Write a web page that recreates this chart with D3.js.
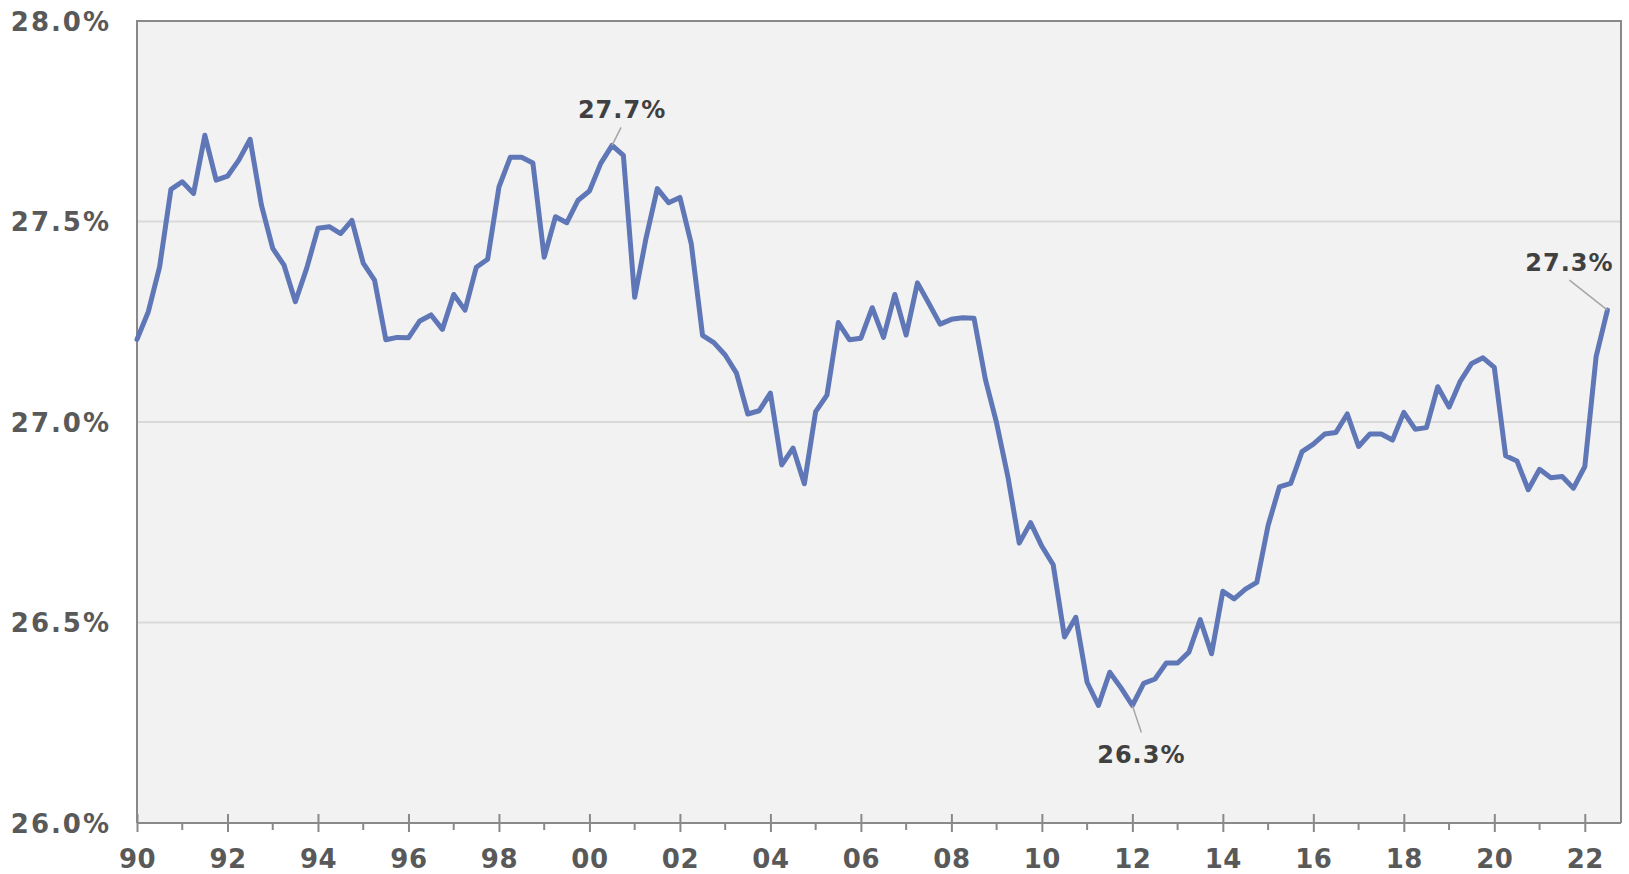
<!DOCTYPE html>
<html>
<head>
<meta charset="utf-8">
<script src="https://cdnjs.cloudflare.com/ajax/libs/d3/7.8.5/d3.min.js"></script>
<style>
  html, body { margin: 0; padding: 0; background: #ffffff; }
  svg { display: block; }
  text { font-family: "DejaVu Sans", Verdana, sans-serif; font-weight: bold; }
</style>
</head>
<body>
<svg id="chart" width="1629" height="874"></svg>
<script>
// ---- data ----
const startYear = 1990;            // first quarter (Q1 1990)
const values = [
  27.206, 27.275, 27.387, 27.580,
  27.599, 27.570, 27.715, 27.603,
  27.613, 27.653, 27.705, 27.541,
  27.433, 27.391, 27.300, 27.383,
  27.483, 27.487, 27.470, 27.503,
  27.396, 27.354, 27.205, 27.211,
  27.210, 27.252, 27.267, 27.231,
  27.318, 27.279, 27.386, 27.406,
  27.586, 27.660, 27.660, 27.646,
  27.411, 27.512, 27.497, 27.553,
  27.576, 27.645, 27.690, 27.665,
  27.311, 27.458, 27.582, 27.547,
  27.560, 27.445, 27.216, 27.198,
  27.167, 27.122, 27.020, 27.028,
  27.072, 26.893, 26.935, 26.846,
  27.026, 27.067, 27.248, 27.205,
  27.209, 27.285, 27.211, 27.318,
  27.217, 27.347, 27.296, 27.244,
  27.256, 27.260, 27.259, 27.107,
  26.997, 26.863, 26.698, 26.749,
  26.690, 26.644, 26.464, 26.513,
  26.351, 26.293, 26.376, 26.337,
  26.293, 26.348, 26.359, 26.399,
  26.399, 26.426, 26.507, 26.422,
  26.578, 26.559, 26.583, 26.600,
  26.742, 26.838, 26.847, 26.926,
  26.945, 26.970, 26.974, 27.020,
  26.939, 26.970, 26.970, 26.955,
  27.024, 26.982, 26.986, 27.088,
  27.037, 27.102, 27.146, 27.160,
  27.136, 26.916, 26.903, 26.831,
  26.882, 26.861, 26.864, 26.835,
  26.889, 27.163, 27.279
];
const xTickYears = [1990, 1992, 1994, 1996, 1998, 2000, 2002, 2004, 2006, 2008, 2010, 2012, 2014, 2016, 2018, 2020, 2022];
const xTickLabels = ["90", "92", "94", "96", "98", "00", "02", "04", "06", "08", "10", "12", "14", "16", "18", "20", "22"];
const yTicks = [26.0, 26.5, 27.0, 27.5, 28.0];
const yTickLabels = ["26.0%", "26.5%", "27.0%", "27.5%", "28.0%"];
// annotated points: index into values, label text
const annotations = [
  { index: 42, label: "27.7%" },
  { index: 88, label: "26.3%" },
  { index: 130, label: "27.3%" }
];

// ---- layout ----
const plot = { left: 137, right: 1621, top: 21, bottom: 823 };
const svg = d3.select("#chart");

const x = d3.scaleLinear()
  .domain([1990, 2022])
  .range([137, 1584.8]);

const y = d3.scaleLinear()
  .domain([26, 28])
  .range([plot.bottom, plot.top]);

const pts = values.map((v, i) => ({ t: startYear + i / 4, v }));

// background
svg.append("rect")
  .attr("x", plot.left).attr("y", plot.top)
  .attr("width", plot.right - plot.left).attr("height", plot.bottom - plot.top)
  .attr("fill", "#f2f2f2");

// gridlines
svg.append("g")
  .selectAll("line")
  .data(yTicks.filter(d => d > 26 && d < 28))
  .join("line")
  .attr("x1", plot.left).attr("x2", plot.right)
  .attr("y1", d => y(d)).attr("y2", d => y(d))
  .attr("stroke", "#d9d9d9").attr("stroke-width", 2);

// plot border (left, top, right)
svg.append("path")
  .attr("d", `M${plot.left},${plot.bottom}V${plot.top}H${plot.right}V${plot.bottom}`)
  .attr("fill", "none").attr("stroke", "#898989").attr("stroke-width", 2);

// y axis labels
const yAxis = d3.axisLeft(y).tickValues(yTicks)
  .tickFormat((d, i) => yTickLabels[i]).tickSize(0).tickPadding(28);
const gy = svg.append("g").attr("transform", `translate(${plot.left},0)`).call(yAxis);
gy.select(".domain").remove();
gy.selectAll("text")
  .attr("fill", "#595959").style("font-size", "26px")
  .style("letter-spacing", "2px")
  .attr("dy", "0.36em").attr("x", -26);

// x axis: minor yearly ticks (below axis only)
const minorYears = d3.range(1990, 2023).filter(yv => !xTickYears.includes(yv));
svg.append("g")
  .selectAll("line")
  .data(minorYears)
  .join("line")
  .attr("x1", d => x(d)).attr("x2", d => x(d))
  .attr("y1", plot.bottom).attr("y2", plot.bottom + 7)
  .attr("stroke", "#898989").attr("stroke-width", 2);

// x axis major ticks crossing axis + labels
const xAxis = d3.axisBottom(x).tickValues(xTickYears)
  .tickFormat((d, i) => xTickLabels[i]).tickSizeInner(9).tickSizeOuter(0).tickPadding(28);
const gx = svg.append("g").attr("transform", `translate(0,${plot.bottom})`).call(xAxis);
gx.select(".domain").remove();
gx.selectAll(".tick line")
  .attr("y1", -9).attr("y2", 9)
  .attr("stroke", "#898989").attr("stroke-width", 2);
gx.selectAll(".tick text")
  .attr("fill", "#595959").style("font-size", "26px")
  .style("letter-spacing", "0.5px")
  .attr("y", 27).attr("dy", "0.71em");

// x axis line
svg.append("line")
  .attr("x1", plot.left).attr("x2", plot.right)
  .attr("y1", plot.bottom).attr("y2", plot.bottom)
  .attr("stroke", "#898989").attr("stroke-width", 2);

// data line
const line = d3.line().x(d => x(d.t)).y(d => y(d.v));
svg.append("path")
  .datum(pts)
  .attr("d", line)
  .attr("fill", "none")
  .attr("stroke", "#5f77b6")
  .attr("stroke-width", 5)
  .attr("stroke-linejoin", "round")
  .attr("stroke-linecap", "round");

// annotations: label offsets relative to the point
const annoOffsets = [
  { lx: 9, ly: -18, tx: 10, ty: -27 },
  { lx: 9, ly: 27, tx: 9, ty: 57 },
  { lx: -38, ly: -30, tx: -38, ty: -39 }
];
annotations.forEach((a, k) => {
  const p = pts[a.index];
  const px = x(p.t), py = y(p.v);
  const o = annoOffsets[k];
  svg.append("line")
    .attr("x1", px).attr("y1", py)
    .attr("x2", px + o.lx).attr("y2", py + o.ly)
    .attr("stroke", "#a6a6a6").attr("stroke-width", 1.5);
  svg.append("text")
    .attr("x", px + o.tx).attr("y", py + o.ty)
    .attr("text-anchor", "middle")
    .attr("fill", "#404040")
    .style("font-size", "24px")
    .style("letter-spacing", "1px")
    .text(a.label);
});
</script>
</body>
</html>
